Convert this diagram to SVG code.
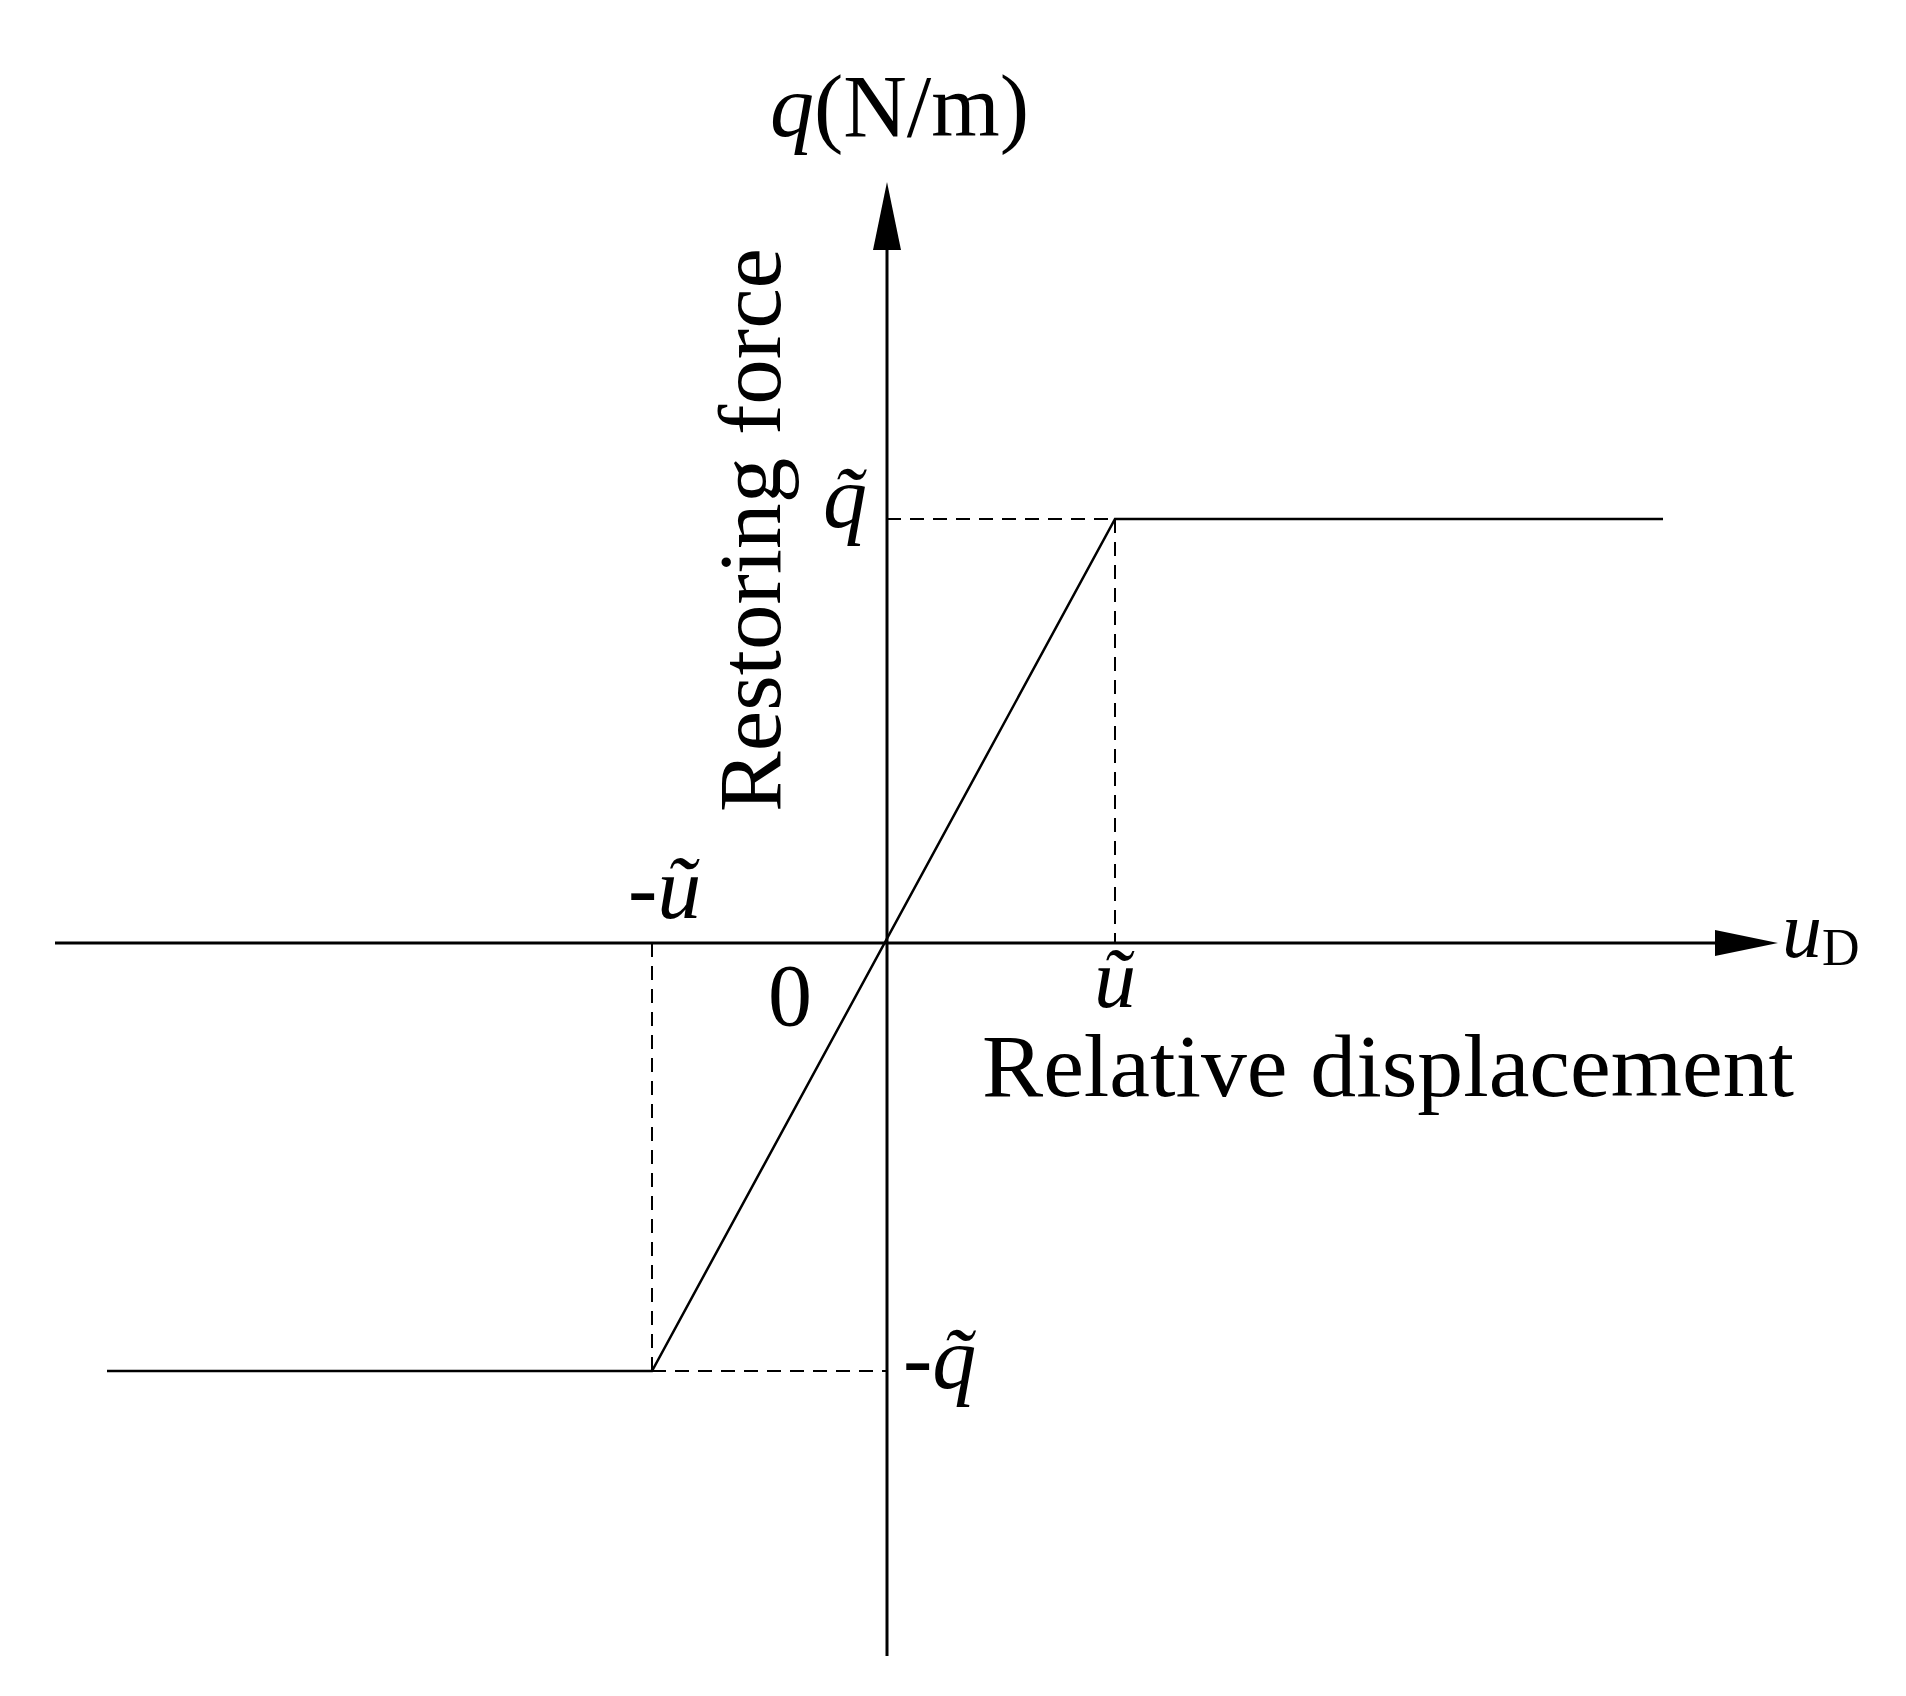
<svg xmlns="http://www.w3.org/2000/svg" width="1906" height="1696" viewBox="0 0 1906 1696">
<style>
text{font-family:"Liberation Serif","Times New Roman",serif;fill:#000}
.it{font-style:italic}
.ax{stroke:#000;stroke-width:3;fill:none}
.ln{stroke:#000;stroke-width:2.5;fill:none}
.ds{stroke:#000;stroke-width:2;fill:none;stroke-dasharray:14 9}
</style>
<rect width="1906" height="1696" fill="#fff"/>
<g id="connectors">
<line class="ax" x1="887" y1="1656" x2="887" y2="240"/>
<polygon points="887,182 873,250 901,250"/>
<line class="ax" x1="55" y1="943" x2="1720" y2="943"/>
<polygon points="1778,943 1715,930 1715,956"/>
<polyline class="ln" points="107,1371 652,1371 1115,519 1663,519"/>
<line class="ds" x1="887" y1="519" x2="1115" y2="519"/>
<line class="ds" x1="1115" y1="519" x2="1115" y2="943"/>
<line class="ds" x1="652" y1="943" x2="652" y2="1371"/>
<line class="ds" x1="652" y1="1371" x2="887" y2="1371"/>
</g>
<g id="labels" font-size="88">
<text x="770" y="136"><tspan class="it">q</tspan>(N/m)</text>
<text transform="translate(780,530) rotate(-90)" text-anchor="middle" textLength="564" lengthAdjust="spacingAndGlyphs">Restoring force</text>
<text x="982" y="1096" textLength="812" lengthAdjust="spacingAndGlyphs">Relative displacement</text>
<text x="790" y="1025" text-anchor="middle">0</text>
<text x="1115" y="1008" class="it" text-anchor="middle" font-size="84">ũ</text>
<text x="628" y="918">-<tspan class="it">ũ</tspan></text>
<text x="845" y="527" class="it" text-anchor="middle">q̃</text>
<text x="903" y="1388">-<tspan class="it">q̃</tspan></text>
<text x="1782" y="957" class="it" font-size="80">u<tspan font-style="normal" font-size="52" dy="8">D</tspan></text>
</g>
</svg>
